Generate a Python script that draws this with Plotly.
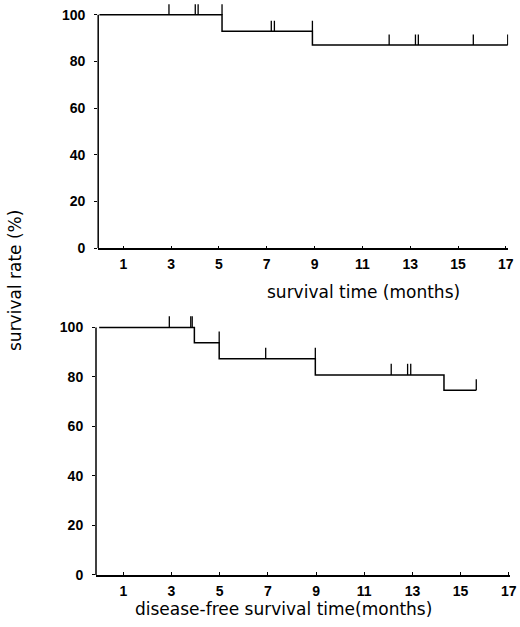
import plotly.graph_objects as go

# overall survival (top panel)
os_event_t = [0, 5.13, 8.91]
os_surv = [100, 92.9, 87.0]
os_end_t = 17.08
os_censor_t = [2.91, 4.01, 4.13, 5.13, 7.19, 7.32, 8.91, 12.12, 13.22, 13.34, 15.64, 17.08]

# disease-free survival (bottom panel)
dfs_event_t = [0, 3.95, 4.98, 8.97, 14.31]
dfs_surv = [100, 93.8, 87.3, 80.8, 74.6]
dfs_end_t = 15.65
dfs_censor_t = [2.91, 3.80, 3.86, 4.98, 6.91, 8.97, 12.12, 12.80, 12.93, 15.65]

x_ticks = [1, 3, 5, 7, 9, 11, 13, 15, 17]
y_ticks = [0, 20, 40, 60, 80, 100]

TICK_H = 4.5
TICK_FONT = "Liberation Sans, Arial, sans-serif"
TITLE_FONT = "DejaVu Sans, Verdana, sans-serif"


def level_before(t, ev_t, surv):
    lev = surv[0]
    for e, s in zip(ev_t, surv):
        if e < t:
            lev = s
    return lev


def km_traces(ev_t, surv, end_t, censor_t, xa, ya):
    xs = list(ev_t) + [end_t]
    ys = list(surv) + [surv[-1]]
    step = go.Scatter(x=xs, y=ys, mode="lines", line=dict(color="black", width=1.5, shape="hv"),
                      xaxis=xa, yaxis=ya, hoverinfo="skip")
    cx, cy = [], []
    for t in censor_t:
        lev = level_before(t, ev_t, surv)
        cx += [t, t, None]
        cy += [lev, lev + TICK_H, None]
    cens = go.Scatter(x=cx, y=cy, mode="lines", line=dict(color="black", width=1.3),
                      xaxis=xa, yaxis=ya, hoverinfo="skip")
    return [step, cens]


fig = go.Figure()
for tr in km_traces(os_event_t, os_surv, os_end_t, os_censor_t, "x", "y"):
    fig.add_trace(tr)
for tr in km_traces(dfs_event_t, dfs_surv, dfs_end_t, dfs_censor_t, "x2", "y2"):
    fig.add_trace(tr)

xaxis_common = dict(tickvals=x_ticks, ticks="inside", ticklen=3, tickwidth=1.2, tickcolor="black",
                    showline=True, linecolor="black", linewidth=1.5, showgrid=False, zeroline=False,
                    ticklabelstandoff=2,
                    tickfont=dict(family=TICK_FONT, size=14, color="black", weight="bold"))
yaxis_common = dict(range=[0, 105], tickvals=y_ticks, ticks="outside", ticklen=3, tickwidth=1.2,
                    tickcolor="black", showline=False, showgrid=False, zeroline=False,
                    ticklabelstandoff=6,
                    tickfont=dict(family=TICK_FONT, size=14, color="black", weight="bold"))

fig.update_layout(
    width=520, height=627,
    margin=dict(l=96, r=10, t=3, b=52),
    plot_bgcolor="white", paper_bgcolor="white",
    showlegend=False,
    xaxis=dict(domain=[0.0053, 0.9957], range=[-0.05, 17.1], anchor="y", **xaxis_common),
    yaxis=dict(domain=[0.5712, 1.0], anchor="x", **yaxis_common),
    xaxis2=dict(domain=[0, 1], range=[-0.133, 17.05], anchor="y2", **xaxis_common),
    yaxis2=dict(domain=[0, 0.4545], anchor="x2", **yaxis_common),
    shapes=[
        dict(type="line", xref="x domain", yref="y", x0=0, x1=0, y0=0, y1=100,
             line=dict(color="black", width=1.5)),
        dict(type="line", xref="x2 domain", yref="y2", x0=0, x1=0, y0=0, y1=100,
             line=dict(color="black", width=1.5)),
    ],
    annotations=[
        dict(text="survival time (months)", xref="paper", yref="paper", x=(363 - 96) / 414,
             y=(575 - 292) / 572, xanchor="center", yanchor="middle", showarrow=False,
             font=dict(family=TITLE_FONT, size=17, color="black")),
        dict(text="disease-free survival time(months)", xref="paper", yref="paper",
             x=(283 - 96) / 414, y=(575 - 609) / 572, xanchor="center", yanchor="middle",
             showarrow=False, font=dict(family=TITLE_FONT, size=17, color="black")),
        dict(text="survival rate (%)", xref="paper", yref="paper", x=(15 - 96) / 414,
             y=(575 - 281) / 572, xanchor="center", yanchor="middle", textangle=-90,
             showarrow=False, font=dict(family=TITLE_FONT, size=17, color="black")),
    ],
)

# drop the browser's default page margin so the figure sits flush in the window
fig.write_html("out.html", config={"displayModeBar": False},
               post_script="document.body.style.margin='0';")
